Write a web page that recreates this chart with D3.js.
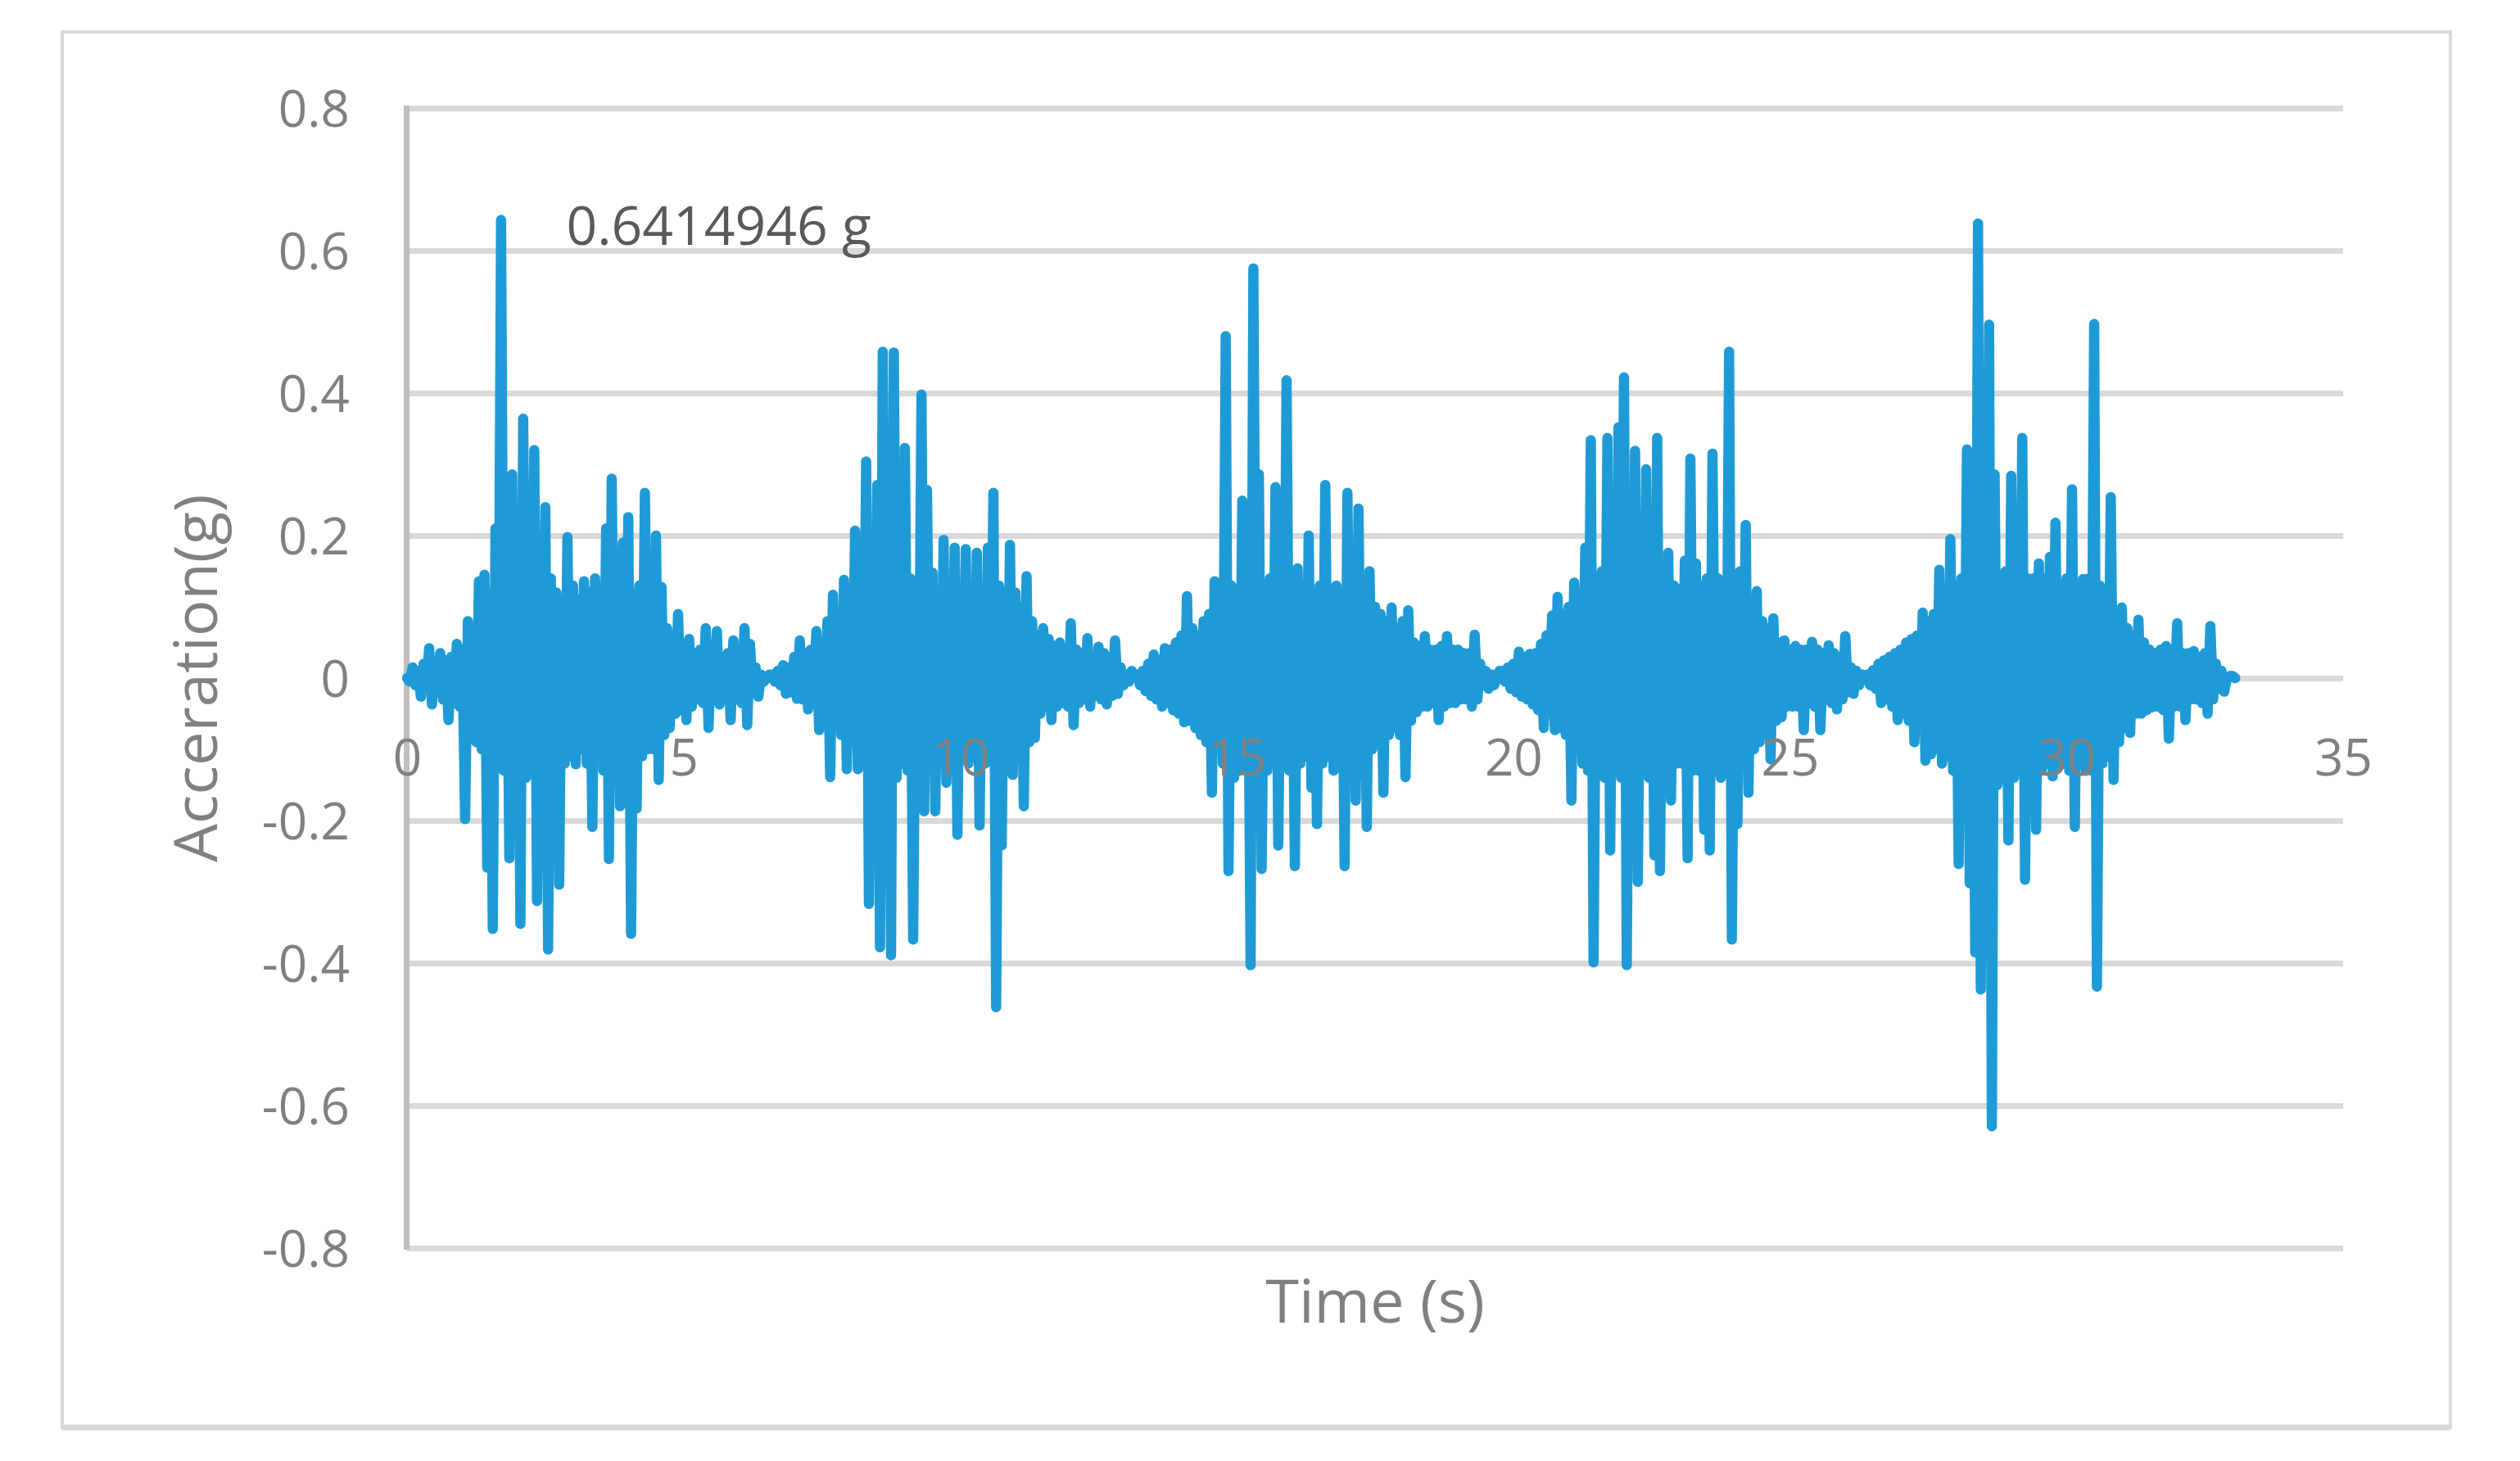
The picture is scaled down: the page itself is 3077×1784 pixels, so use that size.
<!DOCTYPE html>
<html><head><meta charset="utf-8">
<script src="https://cdn.jsdelivr.net/npm/d3@7"></script>
<style>html,body{margin:0;padding:0;background:#fff;} svg{display:block;}</style>
</head><body>
<svg id="chart" width="3077" height="1784"></svg>
<script>
// ---- data ----
const dt = 0.05; // s between samples
const burstStarts = [0, 6.6, 13.2, 19.8, 26.4];
const burst1 = [
 0.00,-0.005,0.015,-0.01,0.01,-0.026,0.02,-0.015,0.042,-0.037,
 0.02,-0.02,0.035,-0.03,0.025,-0.059,0.03,-0.035,0.048,-0.04,
 0.04,-0.198,0.08,-0.073,0.07,-0.09,0.136,-0.1,0.145,-0.266,
 0.12,-0.352,0.21,-0.12,0.643,-0.13,0.14,-0.253,0.286,-0.12,
 0.13,-0.345,0.364,-0.14,0.12,-0.11,0.32,-0.313,0.13,-0.12,
 0.24,-0.381,0.14,-0.1,0.12,-0.29,0.11,-0.12,0.198,-0.11,
 0.13,-0.121,0.11,-0.1,0.136,-0.12,0.12,-0.209,0.14,-0.11,
 0.12,-0.13,0.21,-0.254,0.28,-0.12,0.13,-0.18,0.19,-0.12,
 0.226,-0.359,0.12,-0.183,0.13,-0.11,0.26,-0.1,0.12,-0.1,
 0.2,-0.143,0.128,-0.08,0.07,-0.07,0.06,-0.05,0.09,-0.045,
 0.04,-0.059,0.055,-0.04,0.035,-0.03,0.04,-0.035,0.07,-0.07,
 0.04,-0.03,0.066,-0.037,0.03,-0.025,0.035,-0.059,0.053,-0.03,
 0.03,-0.035,0.07,-0.066,0.048,-0.02,0.015,-0.026,0.005,-0.005,
 0.0,0.005
];
const burst2 = [
 0.005,-0.005,0.01,-0.01,0.018,-0.022,0.015,-0.02,0.03,-0.029,
 0.053,-0.03,0.035,-0.044,0.04,-0.035,0.066,-0.073,0.05,-0.05,
 0.08,-0.139,0.117,-0.06,0.09,-0.08,0.138,-0.128,0.1,-0.09,
 0.207,-0.128,0.12,-0.11,0.304,-0.317,0.13,-0.14,0.271,-0.378,
 0.458,-0.15,0.14,-0.389,0.457,-0.14,0.13,-0.12,0.323,-0.13,
 0.14,-0.367,0.12,-0.13,0.398,-0.187,0.264,-0.12,0.148,-0.187,
 0.12,-0.11,0.194,-0.147,0.13,-0.12,0.183,-0.22,0.12,-0.11,
 0.181,-0.12,0.13,-0.11,0.176,-0.207,0.12,-0.12,0.183,-0.11,
 0.26,-0.462,0.13,-0.235,0.12,-0.11,0.187,-0.136,0.12,-0.1,
 0.1,-0.18,0.143,-0.09,0.08,-0.084,0.06,-0.05,0.07,-0.04,
 0.055,-0.059,0.045,-0.04,0.05,-0.035,0.04,-0.04,0.077,-0.066,
 0.04,-0.035,0.035,-0.03,0.056,-0.04,0.03,-0.025,0.044,-0.03,
 0.035,-0.037,0.03,-0.025,0.053,-0.022,0.015,-0.01,0.005,-0.005,
 0.01,0.005
];
const burst3 = [
 0.005,-0.01,0.01,-0.018,0.02,-0.025,0.033,-0.03,0.025,-0.04,
 0.042,-0.035,0.04,-0.045,0.05,-0.05,0.06,-0.062,0.115,-0.06,
 0.07,-0.07,0.06,-0.08,0.08,-0.09,0.09,-0.161,0.136,-0.1,
 0.1,-0.12,0.48,-0.271,0.13,-0.14,0.12,-0.13,0.249,-0.13,
 0.14,-0.403,0.575,-0.12,0.286,-0.268,0.13,-0.13,0.14,-0.12,
 0.268,-0.235,0.13,-0.12,0.418,-0.13,0.12,-0.264,0.154,-0.12,
 0.13,-0.11,0.2,-0.154,0.12,-0.205,0.13,-0.12,0.271,-0.11,
 0.12,-0.13,0.13,-0.12,0.12,-0.264,0.26,-0.12,0.12,-0.172,
 0.238,-0.11,0.11,-0.209,0.15,-0.1,0.1,-0.09,0.09,-0.161,
 0.08,-0.08,0.099,-0.07,0.07,-0.08,0.08,-0.139,0.095,-0.06,
 0.05,-0.048,0.045,-0.04,0.059,-0.04,0.04,-0.035,0.04,-0.059,
 0.045,-0.04,0.059,-0.035,0.04,-0.035,0.04,-0.03,0.035,-0.03,
 0.035,-0.04,0.061,-0.03,0.02,-0.01,0.01,-0.015,0.005,-0.01,
 0.0,0.01
];
const burst4 = [
 0.01,-0.005,0.015,-0.015,0.02,-0.02,0.037,-0.026,0.03,-0.03,
 0.034,-0.037,0.035,-0.045,0.048,-0.07,0.06,-0.05,0.088,-0.073,
 0.114,-0.07,0.09,-0.08,0.1,-0.172,0.134,-0.1,0.12,-0.12,
 0.183,-0.13,0.334,-0.399,0.14,-0.13,0.15,-0.14,0.337,-0.242,
 0.14,-0.13,0.352,-0.14,0.422,-0.403,0.15,-0.14,0.319,-0.286,
 0.14,-0.13,0.293,-0.14,0.15,-0.249,0.337,-0.271,0.14,-0.13,
 0.176,-0.172,0.13,-0.12,0.125,-0.12,0.165,-0.253,0.308,-0.13,
 0.161,-0.13,0.13,-0.213,0.14,-0.242,0.315,-0.13,0.14,-0.14,
 0.13,-0.13,0.458,-0.367,0.14,-0.205,0.15,-0.12,0.215,-0.161,
 0.11,-0.1,0.122,-0.09,0.08,-0.08,0.07,-0.114,0.084,-0.06,
 0.05,-0.055,0.053,-0.04,0.04,-0.04,0.045,-0.04,0.04,-0.073,
 0.04,-0.035,0.051,-0.04,0.04,-0.073,0.035,-0.03,0.046,-0.035,
 0.035,-0.044,0.03,-0.03,0.059,-0.02,0.015,-0.022,0.01,-0.01,
 0.005,0.0
];
const burst5 = [
 0.005,-0.01,0.011,-0.015,0.02,-0.035,0.025,-0.03,0.03,-0.04,
 0.035,-0.059,0.04,-0.05,0.05,-0.06,0.055,-0.09,0.06,-0.07,
 0.092,-0.116,0.08,-0.107,0.09,-0.1,0.152,-0.12,0.11,-0.11,
 0.195,-0.13,0.13,-0.261,0.14,-0.15,0.321,-0.288,0.15,-0.385,
 0.638,-0.437,0.16,-0.15,0.496,-0.629,0.286,-0.15,0.14,-0.14,
 0.15,-0.228,0.284,-0.14,0.15,-0.13,0.337,-0.283,0.14,-0.13,
 0.14,-0.213,0.161,-0.13,0.14,-0.12,0.17,-0.138,0.218,-0.12,
 0.13,-0.12,0.14,-0.13,0.265,-0.209,0.13,-0.12,0.139,-0.13,
 0.14,-0.13,0.497,-0.433,0.13,-0.12,0.12,-0.11,0.254,-0.143,
 0.09,-0.09,0.099,-0.07,0.07,-0.077,0.06,-0.05,0.082,-0.05,
 0.05,-0.045,0.04,-0.041,0.035,-0.04,0.04,-0.045,0.045,-0.085,
 0.04,-0.04,0.077,-0.04,0.035,-0.059,0.035,-0.03,0.038,-0.03,
 0.03,-0.035,0.035,-0.05,0.073,-0.03,0.02,-0.015,0.01,-0.019,
 0.0,0.003,0.003,0.0
];
const bursts = [burst1, burst2, burst3, burst4, burst5];
const yTicks = [-0.8, -0.6, -0.4, -0.2, 0, 0.2, 0.4, 0.6, 0.8];
const xTicks = [0, 5, 10, 15, 20, 25, 30, 35];
const peakLabel = "0.6414946 g";
const peakLabelAt = [2.88, 0.608]; // time, value of the note's baseline
const xTitle = "Time (s)";
const yTitle = "Acceration(g)";

// ---- build ----
const data = [];
bursts.forEach((arr, b) => arr.forEach((v, i) => data.push({t: burstStarts[b] + i * dt, v})));

const svg = d3.select("#chart");
const FONT = "'Open Sans', 'Liberation Sans', sans-serif";
const L = 497, R = 2861, T = 132, B = 1524;

svg.append("rect").attr("width", 3077).attr("height", 1784).attr("fill", "#fff");
// outer chart border
svg.append("rect").attr("x", 76).attr("y", 39).attr("width", 2916).attr("height", 1704)
  .attr("fill", "none").attr("stroke", "#d9d9d9").attr("stroke-width", 4);
svg.append("line").attr("x1", 76).attr("x2", 2992).attr("y1", 1743).attr("y2", 1743)
  .attr("stroke", "#d9d9d9").attr("stroke-width", 7);

const x = d3.scaleLinear().domain([0, 35]).range([L, R]);
const y = d3.scaleLinear().domain([-0.8, 0.8]).range([B, T]);

// y axis + gridlines
const gy = svg.append("g").attr("transform", `translate(${L},0)`)
  .call(d3.axisLeft(y).tickValues(yTicks).tickSize(-(R - L)).tickSizeOuter(0)
    .tickPadding(70).tickFormat(d => String(d)));
gy.selectAll(".tick line").attr("stroke", "#d9d9d9").attr("stroke-width", 7);
gy.select(".domain").remove();
gy.selectAll(".tick text").attr("fill", "#808080").attr("font-family", FONT)
  .attr("font-size", 62).attr("dy", "0.36em");
svg.append("line").attr("x1", L - 0.5).attr("x2", L - 0.5).attr("y1", y(0.8) - 3).attr("y2", y(-0.8) + 2)
  .attr("stroke", "#bfbfbf").attr("stroke-width", 7);

// series
const line = d3.line().x(d => x(d.t)).y(d => y(d.v));
svg.append("path").datum(data).attr("d", line).attr("fill", "none")
  .attr("stroke", "#1e9bd7").attr("stroke-width", 12.5)
  .attr("stroke-linejoin", "round").attr("stroke-linecap", "round");

// x axis labels (drawn over the series, as in the reference)
const gx = svg.append("g").attr("transform", `translate(0,${y(0)})`)
  .call(d3.axisBottom(x).tickValues(xTicks).tickSize(0).tickPadding(76).tickFormat(d => String(d)));
gx.select(".domain").remove();
gx.selectAll(".tick text").attr("fill", "#808080").attr("font-family", FONT)
  .attr("font-size", 62).attr("dy", "0.36em").attr("y", 97);

// peak annotation
svg.append("text").attr("x", x(peakLabelAt[0])).attr("y", y(peakLabelAt[1]))
  .attr("font-family", FONT).attr("font-size", 66).attr("fill", "#595959").text(peakLabel);

// axis titles
svg.append("text").attr("x", (L + R) / 2).attr("y", 1615).attr("text-anchor", "middle")
  .attr("font-family", FONT).attr("font-size", 74).attr("fill", "#808080").text(xTitle);
svg.append("text").attr("transform", `translate(265,${y(0)}) rotate(-90)`).attr("text-anchor", "middle")
  .attr("font-family", FONT).attr("font-size", 74).attr("fill", "#808080").text(yTitle);
</script>
</body></html>
